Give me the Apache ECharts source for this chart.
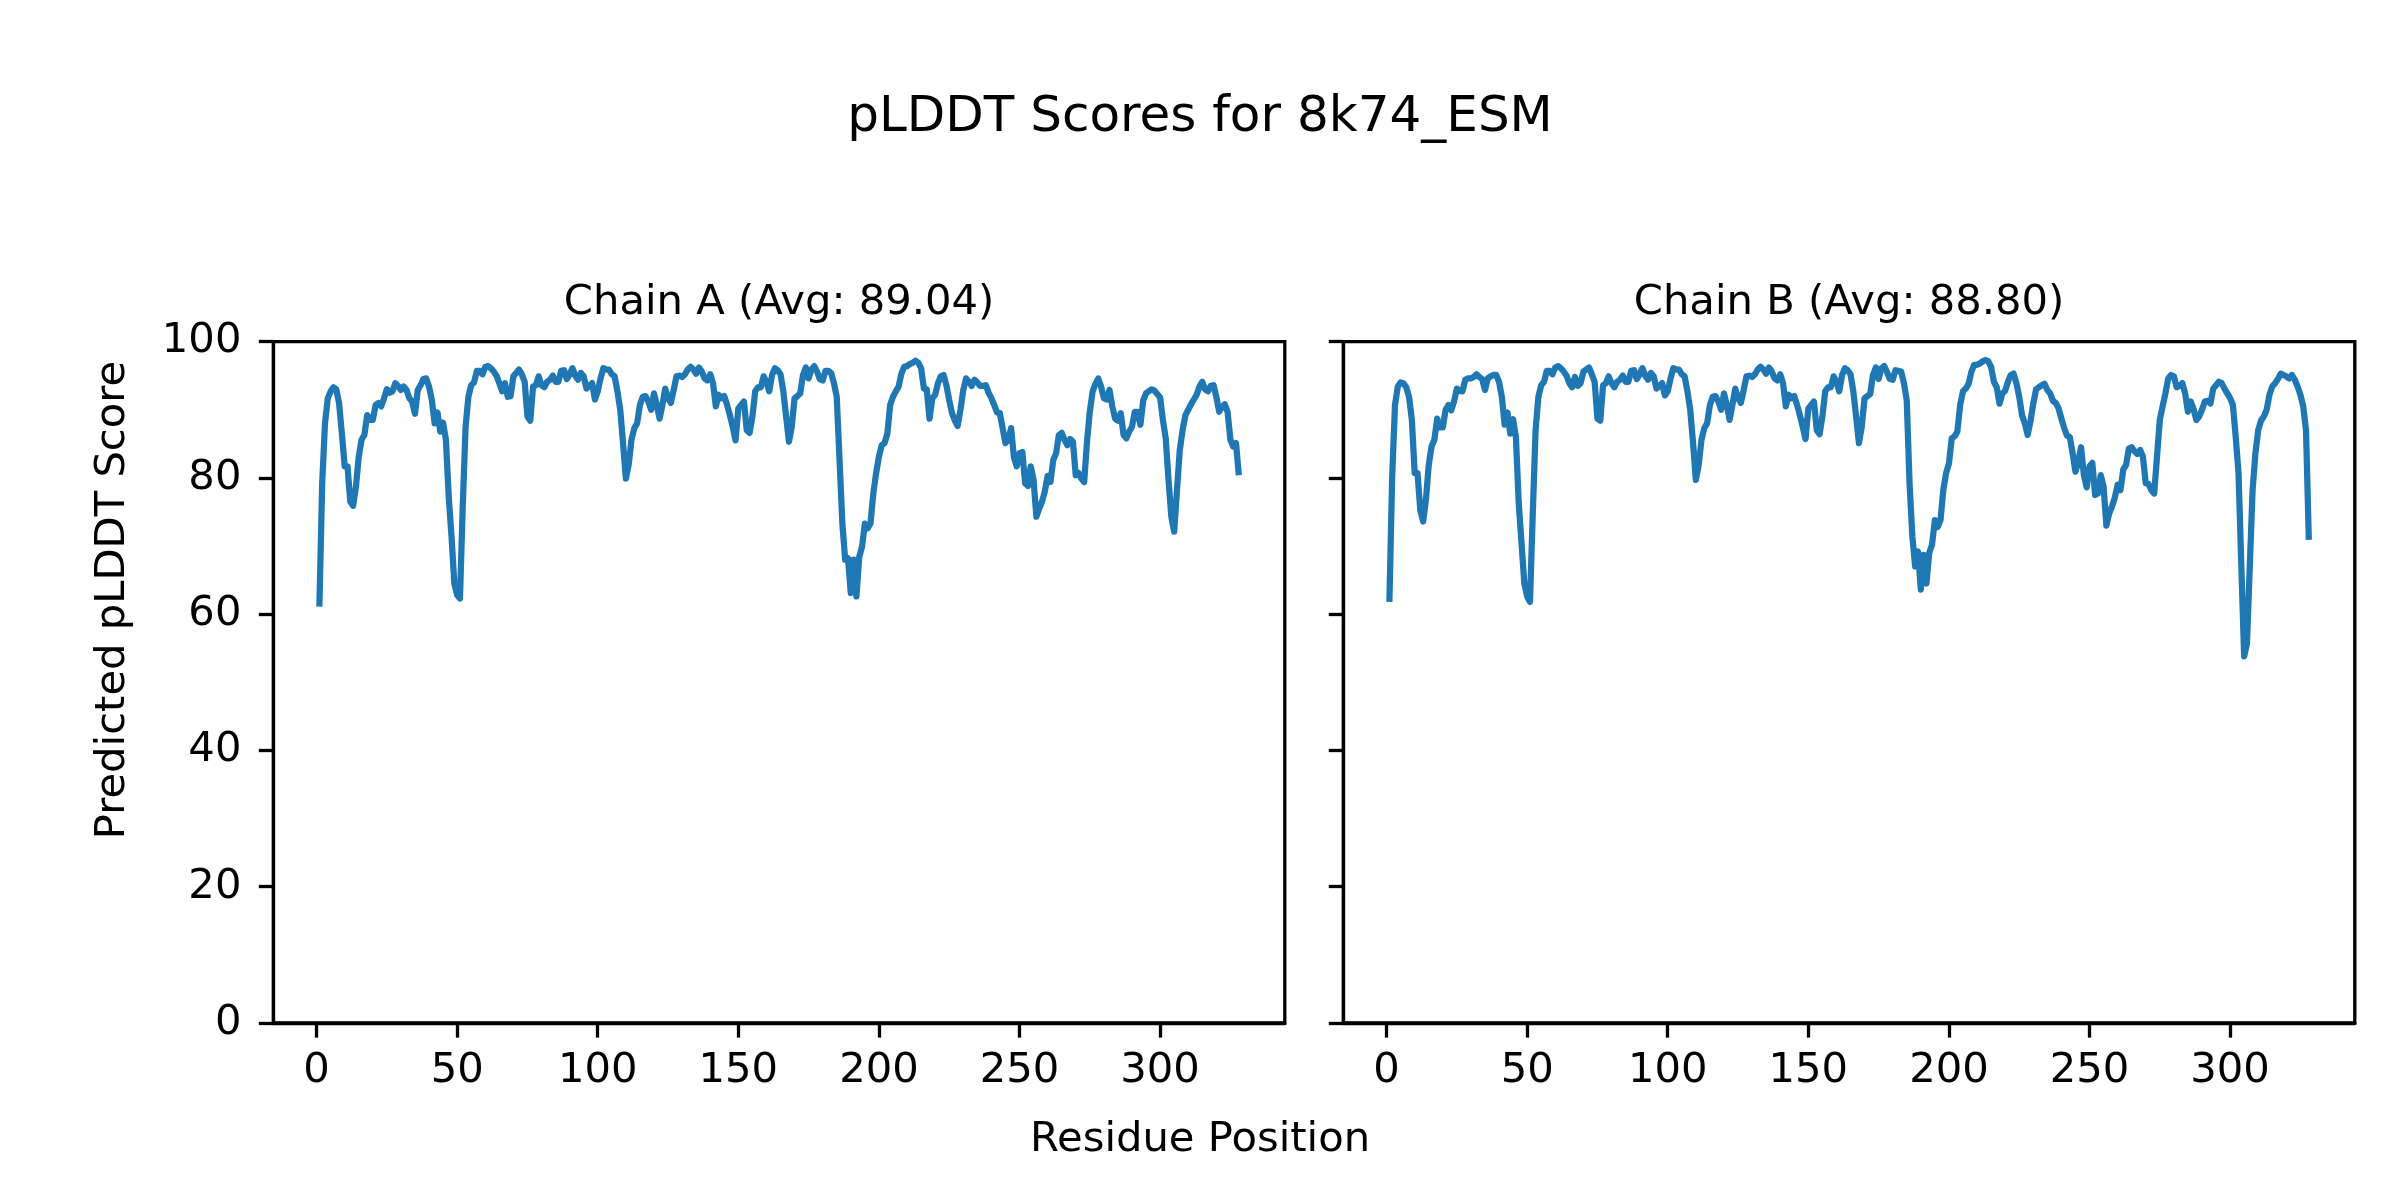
<!DOCTYPE html>
<html>
<head>
<meta charset="utf-8">
<script src="https://cdn.jsdelivr.net/npm/echarts@6/dist/echarts.min.js"></script>
<style>
html,body{margin:0;padding:0;background:#fff;}
#chart{width:2400px;height:1200px;}
</style>
</head>
<body>
<div id="chart"></div>
<script>
const figTitle = "pLDDT Scores for 8k74_ESM";
const chainTitles = ["Chain A (Avg: 89.04)", "Chain B (Avg: 88.80)"];
const xLabel = "Residue Position";
const yLabel = "Predicted pLDDT Score";
const firstResidue = 1;
const xTicks = [0, 50, 100, 150, 200, 250, 300];

const chainA = [
61.1,79.2,88.0,91.7,92.7,93.3,93.0,91.0,86.5,81.7,
81.7,76.5,75.9,78.7,83.1,85.6,86.3,89.2,88.5,88.5,
90.7,91.0,90.5,91.7,93.0,92.5,92.7,93.9,93.5,92.9,
93.4,92.9,91.7,91.2,89.4,92.9,93.6,94.5,94.6,93.4,
91.4,88.0,89.6,86.8,88.1,85.6,77.3,71.4,64.5,62.8,
62.3,76.0,87.5,91.9,93.6,94.0,95.7,95.7,95.2,96.3,
96.4,96.1,95.6,95.0,93.9,92.7,93.9,91.9,92.0,94.9,
95.4,95.9,95.2,94.1,89.0,88.4,93.4,93.6,94.9,93.6,
93.3,94.1,94.4,95.0,94.1,94.1,95.7,95.8,94.5,95.2,
96.1,95.0,94.4,95.4,94.9,93.1,93.5,93.9,91.5,92.7,
94.6,96.1,95.9,95.9,95.2,94.9,92.7,90.0,85.1,79.9,
81.9,85.6,87.3,88.0,90.7,91.9,92.0,91.2,90.0,92.4,
90.7,88.7,90.7,93.1,91.7,91.0,92.9,94.9,95.0,94.8,
95.2,95.9,96.3,95.9,95.3,96.2,95.6,94.6,94.3,95.2,
93.9,90.5,92.2,91.7,92.0,90.7,89.2,87.5,85.5,90.2,
90.7,91.2,87.0,86.6,89.0,92.7,93.3,93.3,94.9,94.1,
92.7,95.1,96.1,95.8,95.2,92.7,89.0,85.3,87.5,91.7,
92.0,92.4,95.1,96.2,94.6,95.9,96.4,95.6,94.5,94.3,
95.7,95.7,95.4,93.9,91.9,82.6,73.3,68.0,68.2,63.1,
68.0,62.6,68.4,69.9,73.3,72.6,73.3,77.7,80.7,83.1,
84.8,85.1,86.5,90.7,91.9,92.7,93.4,95.3,96.3,96.4,
96.7,96.9,97.2,96.9,96.1,93.1,93.0,88.7,91.7,92.2,
93.9,94.9,95.1,93.6,91.4,89.5,88.4,87.6,90.0,92.9,
94.6,94.1,93.5,94.4,94.0,93.5,93.5,93.6,92.5,91.7,
90.7,89.6,89.5,87.3,85.1,85.6,87.3,83.1,81.7,83.6,
83.8,79.2,78.8,81.7,79.7,74.3,75.5,76.5,78.0,80.3,
79.4,82.6,83.6,86.3,86.6,85.6,84.8,85.7,85.3,80.4,
80.7,79.9,79.4,85.3,89.7,92.7,93.8,94.6,93.4,91.7,
91.5,92.9,90.5,88.7,88.4,89.5,86.3,85.8,86.8,87.5,
89.7,89.7,87.8,91.4,92.4,92.7,93.0,92.8,92.3,91.8,
88.5,85.8,79.7,74.3,72.1,78.2,84.1,87.0,89.2,90.0,
90.8,91.5,92.2,93.4,94.1,93.0,92.7,93.5,93.6,91.9,
89.7,90.4,90.8,89.7,85.6,84.6,85.1,80.4
];

const chainB = [
61.8,80.2,90.7,93.4,94.0,93.9,93.3,91.9,88.5,80.7,
80.7,75.3,73.6,76.8,81.9,84.6,85.6,88.7,87.4,87.4,
90.0,90.7,89.9,91.2,93.1,92.8,92.7,94.4,94.6,94.6,
94.8,95.2,94.8,94.5,92.9,94.6,94.9,95.1,95.1,94.1,
91.9,87.8,89.6,86.5,88.6,86.0,76.3,70.4,64.5,62.6,
61.8,74.8,87.0,91.9,93.6,94.1,95.7,95.7,95.2,96.2,
96.4,96.1,95.6,95.0,93.9,93.3,94.8,93.5,93.9,95.6,
95.9,96.2,95.2,94.1,88.7,88.4,93.6,93.9,94.9,93.9,
93.3,94.1,94.4,95.0,94.1,94.1,95.7,95.8,94.5,95.2,
96.1,95.0,94.4,95.4,94.9,93.1,93.5,93.9,92.1,92.7,
94.6,96.1,95.9,95.9,95.2,94.9,92.7,90.0,85.1,79.7,
81.9,85.6,87.3,88.0,90.7,91.9,92.0,91.2,90.0,92.4,
90.7,88.5,90.7,93.1,91.7,91.0,92.9,94.9,95.0,94.8,
95.2,95.9,96.3,95.9,95.3,96.2,95.6,94.6,94.3,95.2,
93.9,90.5,92.2,91.7,92.0,90.7,89.2,87.5,85.7,90.2,
90.7,91.2,87.0,86.4,89.0,92.7,93.3,93.3,94.9,94.1,
92.7,95.1,96.1,95.8,95.2,92.7,89.0,85.1,87.5,91.7,
92.0,92.3,95.1,96.2,94.5,96.1,96.4,95.5,94.5,94.4,
95.8,95.7,95.6,93.9,91.4,79.2,71.4,67.0,69.2,63.6,
68.7,64.5,69.0,70.2,73.8,72.8,73.8,78.2,80.7,82.1,
85.8,86.1,86.8,90.7,92.7,93.1,93.8,95.6,96.6,96.6,
96.8,97.1,97.3,97.1,96.3,94.1,93.3,90.9,92.4,92.8,
94.1,95.1,95.3,93.9,91.9,89.2,88.0,86.3,88.3,90.9,
93.0,93.3,93.6,93.8,92.9,92.4,91.3,91.0,90.2,88.7,
87.3,86.2,86.0,83.6,80.9,82.4,84.5,80.4,78.6,81.7,
82.2,77.5,77.7,80.4,78.7,73.0,74.8,75.8,77.1,79.0,
78.2,81.2,81.9,84.3,84.5,83.9,83.5,84.1,83.1,79.2,
79.1,78.2,77.7,83.1,88.5,90.5,92.4,94.6,95.1,94.9,
93.3,93.5,93.9,92.4,89.7,91.2,90.1,88.5,89.0,90.0,
91.2,91.3,90.9,93.1,93.6,94.1,93.9,93.1,92.4,91.7,
90.7,86.0,80.7,67.0,53.8,55.7,67.0,78.2,83.6,87.0,
88.4,89.0,90.0,92.2,93.4,93.9,94.5,95.3,95.1,94.9,
94.6,95.1,94.4,93.4,92.2,90.5,87.0,70.9
];

function toPairs(vals) {
  return vals.map((v, i) => [firstResidue + i, v]);
}

const FONT = "DejaVu Sans";
const TICK_FS = 41.7;
const gridTop = 341.6, gridH = 681.4, gridW = 1011.4;
const gridLefts = [273.4, 1343.4];

function xAxisCfg(gi) {
  return {
    type: 'value', gridIndex: gi, min: -15.35, max: 344.35,
    axisLine: { show: true, onZero: false, lineStyle: { color: '#000', width: 3.3 } },
    axisTick: { show: true, customValues: xTicks, length: 14.6, lineStyle: { color: '#000', width: 3.3 } },
    axisLabel: { show: true, customValues: xTicks, fontSize: TICK_FS, fontFamily: FONT, color: '#000', margin: 27 },
    splitLine: { show: false }
  };
}
function yAxisCfg(gi, showLabels) {
  return {
    type: 'value', gridIndex: gi, min: 0, max: 100, interval: 20,
    axisLine: { show: true, onZero: false, lineStyle: { color: '#000', width: 3.3 } },
    axisTick: { show: true, length: 14.6, lineStyle: { color: '#000', width: 3.3 } },
    axisLabel: { show: showLabels, fontSize: TICK_FS, fontFamily: FONT, color: '#000', margin: 32 },
    splitLine: { show: false }
  };
}

const chart = echarts.init(document.getElementById('chart'), null, { renderer: 'canvas' });
chart.setOption({
  animation: false,
  backgroundColor: '#fff',
  grid: gridLefts.map(l => ({
    left: l, top: gridTop, width: gridW, height: gridH,
    show: true, borderColor: '#000', borderWidth: 3.3, backgroundColor: 'transparent'
  })),
  xAxis: [xAxisCfg(0), xAxisCfg(1)],
  yAxis: [yAxisCfg(0, true), yAxisCfg(1, false)],
  series: [chainA, chainB].map((vals, i) => ({
    type: 'line', xAxisIndex: i, yAxisIndex: i,
    data: toPairs(vals), showSymbol: false, symbol: 'none',
    lineStyle: { color: '#1f77b4', width: 6.25, join: 'round', cap: 'butt' },
    clip: true
  })),
  graphic: [
    { type: 'text', x: 1200, y: 118, style: { text: figTitle, fontSize: 50, fontFamily: FONT, fill: '#000', align: 'center', verticalAlign: 'middle' } },
    { type: 'text', x: gridLefts[0] + gridW / 2, y: 303, style: { text: chainTitles[0], fontSize: TICK_FS, fontFamily: FONT, fill: '#000', align: 'center', verticalAlign: 'middle' } },
    { type: 'text', x: gridLefts[1] + gridW / 2, y: 303, style: { text: chainTitles[1], fontSize: TICK_FS, fontFamily: FONT, fill: '#000', align: 'center', verticalAlign: 'middle' } },
    { type: 'text', x: 1200, y: 1140, style: { text: xLabel, fontSize: TICK_FS, fontFamily: FONT, fill: '#000', align: 'center', verticalAlign: 'middle' } },
    { type: 'text', x: 113, y: 600, rotation: Math.PI / 2, style: { text: yLabel, fontSize: TICK_FS, fontFamily: FONT, fill: '#000', align: 'center', verticalAlign: 'middle' } }
  ]
});
</script>
</body>
</html>
